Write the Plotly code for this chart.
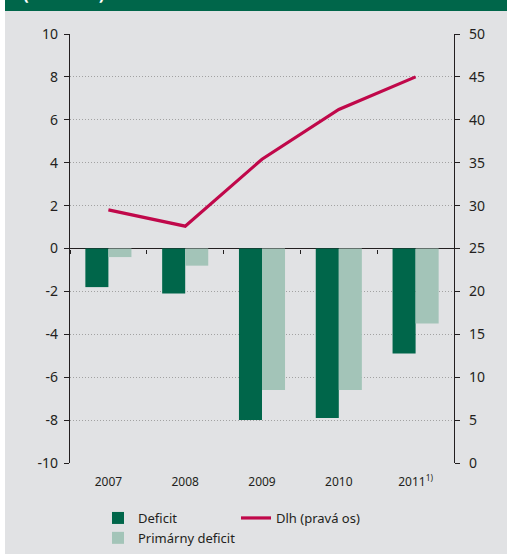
import plotly.graph_objects as go

# Data: general government balance (% of GDP) and debt (right axis)
years = ["2007", "2008", "2009", "2010", "2011<sup>1)</sup>"]
deficit = [-1.8, -2.1, -8.0, -7.9, -4.9]
primary_deficit = [-0.4, -0.8, -6.6, -6.6, -3.5]
debt = [29.5, 27.6, 35.4, 41.2, 45.0]

left_ticks = list(range(-10, 11, 2))
left_labels = ["-10", "-8", "-6", "-4", "-2", "0", "2", "4", "6", "8", "10"]
right_ticks = list(range(0, 51, 5))

W, H = 507, 554
ML, MR, MT, MB = 70, 53, 34, 91
PW, PH = W - ML - MR, H - MT - MB

BG = "#e1e2e4"
GREEN = "#00664a"
LIGHT = "#a3c4b8"
RED = "#c0084a"
FONT = "Noto Sans"


def px_x(px):
    return (px - ML) / PW


def px_y(py):
    return (H - MB - py) / PH


fig = go.Figure()

fig.add_trace(go.Bar(
    x=years, y=deficit, name="Deficit", marker_color=GREEN,
    marker_line_width=0, legend="legend",
))
fig.add_trace(go.Bar(
    x=years, y=primary_deficit, name="Primárny deficit", marker_color=LIGHT,
    marker_line_width=0, legend="legend",
))
fig.add_trace(go.Scatter(
    x=years, y=debt, name="Dlh (pravá os)", mode="lines",
    line=dict(color=RED, width=3.2), yaxis="y2", legend="legend2",
))
# invisible trace on a mid-positioned x axis to carry category boundary ticks
fig.add_trace(go.Scatter(
    x=years, y=[None] * len(years), xaxis="x2", showlegend=False,
    hoverinfo="skip",
))

axis_font = dict(family=FONT, size=14, color="#231f20")
legend_font = dict(family=FONT, size=13, color="#231f20")

fig.update_layout(
    width=W, height=H,
    margin=dict(l=ML, r=MR, t=MT, b=MB, autoexpand=False),
    paper_bgcolor=BG, plot_bgcolor=BG,
    barmode="group", bargap=0.4, bargroupgap=0,
    showlegend=True,
    xaxis=dict(
        type="category", showgrid=False, showline=False, zeroline=False,
        ticks="", tickfont=dict(family=FONT, size=12, color="#231f20"),
        ticklabelstandoff=10,
    ),
    xaxis2=dict(
        type="category", overlaying="x", matches="x", anchor="free",
        position=0.5, showgrid=False, showline=False, zeroline=False,
        showticklabels=False, ticks="outside", tickson="boundaries",
        ticklen=4, tickwidth=1, tickcolor="#231f20",
    ),
    yaxis=dict(
        range=[-10, 10], tickvals=left_ticks, ticktext=left_labels,
        ticks="outside", ticklen=5,
        tickwidth=1.2, tickcolor="#231f20", showline=True, linecolor="#231f20",
        linewidth=1.3, showgrid=True, gridcolor="#a2a2a2",
        griddash="1px,2px", gridwidth=1,
        zeroline=True, zerolinecolor="#231f20", zerolinewidth=1.2,
        tickfont=axis_font, ticklabelstandoff=3,
    ),
    yaxis2=dict(
        range=[0, 50], tickvals=right_ticks, overlaying="y", side="right",
        ticks="outside", ticklen=5, tickwidth=1.2, tickcolor="#231f20",
        showline=True, linecolor="#231f20", linewidth=1.3, showgrid=False,
        zeroline=False, tickfont=axis_font, ticklabelstandoff=6,
    ),
    legend=dict(
        xref="container", yref="container",
        x=98 / W, y=1 - 503 / H, xanchor="left", yanchor="top",
        orientation="v", bgcolor="rgba(0,0,0,0)", font=legend_font,
        traceorder="normal",
    ),
    legend2=dict(
        xref="container", yref="container",
        x=236 / W, y=1 - 503 / H, xanchor="left", yanchor="top",
        orientation="v", bgcolor="rgba(0,0,0,0)", font=legend_font,
    ),
    shapes=[
        dict(type="rect", xref="paper", yref="paper", layer="below",
             x0=px_x(0), x1=px_x(5), y0=px_y(H), y1=px_y(0),
             fillcolor="white", line_width=0),
        dict(type="rect", xref="paper", yref="paper", layer="below",
             x0=px_x(5), x1=px_x(W), y0=px_y(11), y1=px_y(0),
             fillcolor=GREEN, line_width=0),
    ],
    annotations=[
        dict(text="<b>(v % HDP)</b>", xref="paper", yref="paper",
             x=px_x(21), y=px_y(-7), xanchor="left", yanchor="middle",
             showarrow=False, font=dict(family=FONT, size=17, color="white")),
    ],
)

fig.write_html("out.html")
